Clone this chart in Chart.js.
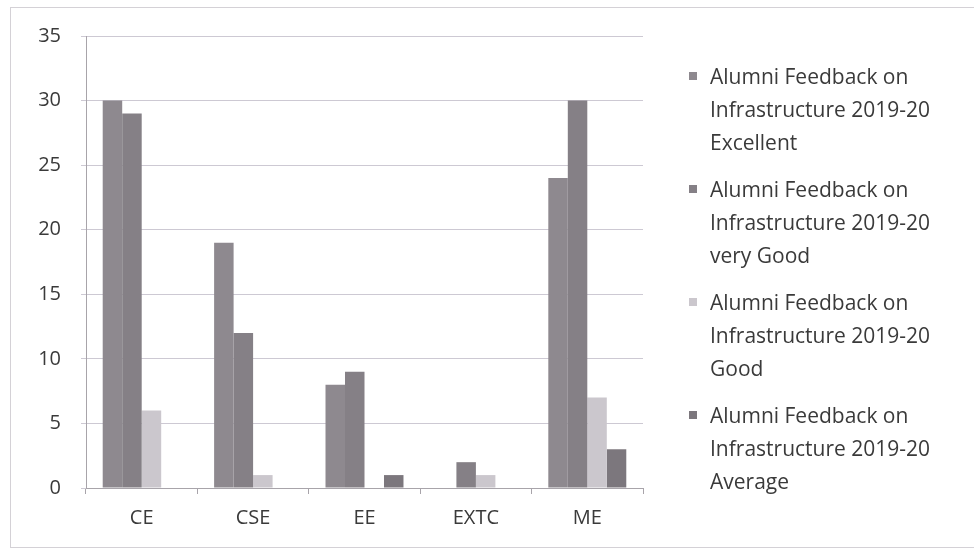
<!DOCTYPE html>
<html>
<head>
<meta charset="utf-8">
<script src="https://cdn.jsdelivr.net/npm/chart.js@4/dist/chart.umd.min.js"></script>
<style>
  html, body { margin: 0; padding: 0; background: #fff; }
  #wrap { position: relative; width: 974px; height: 552px; overflow: hidden; }
  #frame { position: absolute; left: 10px; top: 7px; width: 980px; height: 541px; border: 1px solid #d4d1d6; box-sizing: border-box; }
  #myChart { position: absolute; left: 0; top: 0; }
  #legend { position: absolute; left: 689px; top: 60px; font-family: "Open Sans", sans-serif; font-size: 21px; color: #3a3a3a; line-height: 33px; }
  .item { position: relative; padding-left: 21px; margin-bottom: 14px; }
  .box { position: absolute; left: 0; top: 12px; width: 8px; height: 8px; }
</style>
</head>
<body>
<div id="wrap">
  <div id="frame"></div>
  <canvas id="myChart" width="974" height="552"></canvas>
  <div id="legend"></div>
</div>
<script>
const categories = ['CE', 'CSE', 'EE', 'EXTC', 'ME'];
const seriesNames = [
  'Alumni Feedback on Infrastructure 2019-20 Excellent',
  'Alumni Feedback on Infrastructure 2019-20 very Good',
  'Alumni Feedback on Infrastructure 2019-20 Good',
  'Alumni Feedback on Infrastructure 2019-20 Average'
];
const excellent = [30, 19, 8, 0, 24];
const veryGood = [29, 12, 9, 2, 30];
const good = [6, 1, 0, 1, 7];
const average = [0, 0, 1, 0, 3];
const yTicks = [0, 5, 10, 15, 20, 25, 30, 35];

const colors = ['#8e898f', '#858086', '#cbc7cd', '#7c777d'];
const legendLines = [
  ['Alumni Feedback on', 'Infrastructure 2019-20', 'Excellent'],
  ['Alumni Feedback on', 'Infrastructure 2019-20', 'very Good'],
  ['Alumni Feedback on', 'Infrastructure 2019-20', 'Good'],
  ['Alumni Feedback on', 'Infrastructure 2019-20', 'Average']
];
const values = [excellent, veryGood, good, average];

const font = { family: '"Open Sans", sans-serif', size: 20 };

const ctx = document.getElementById('myChart').getContext('2d');
const myChart = new Chart(ctx, {
    type: 'bar',
    data: {
        labels: categories,
        datasets: seriesNames.map((name, i) => ({
            label: name,
            data: values[i],
            backgroundColor: colors[i],
            borderWidth: 0,
            categoryPercentage: 0.7,
            barPercentage: 1.0
        }))
    },
    options: {
        responsive: false,
        animation: false,
        layout: { padding: { left: 0, right: 331, top: 36, bottom: 0 } },
        plugins: { legend: { display: false }, tooltip: { enabled: false } },
        scales: {
            x: {
                grid: { display: true, drawOnChartArea: false, color: '#a8a4aa', tickLength: 6, offset: true },
                border: { color: '#a8a4aa' },
                ticks: { color: '#3a3a3a', font: font, padding: 12 },
                afterFit: (s) => { s.height = 64; }
            },
            y: {
                min: 0,
                max: 35,
                afterBuildTicks: (s) => { s.ticks = yTicks.map(v => ({ value: v })); },
                grid: { color: '#cdc9d3', tickLength: 5 },
                border: { color: '#a8a4aa' },
                ticks: { color: '#3a3a3a', font: font, padding: 20 },
                afterFit: (s) => { s.width = 86; }
            }
        }
    }
});

const legend = document.getElementById('legend');
legendLines.forEach((lines, i) => {
    const item = document.createElement('div');
    item.className = 'item';
    item.innerHTML = '<span class="box" style="background:' + colors[i] + '"></span>' + lines.join('<br>');
    legend.appendChild(item);
});
</script>
</body>
</html>
